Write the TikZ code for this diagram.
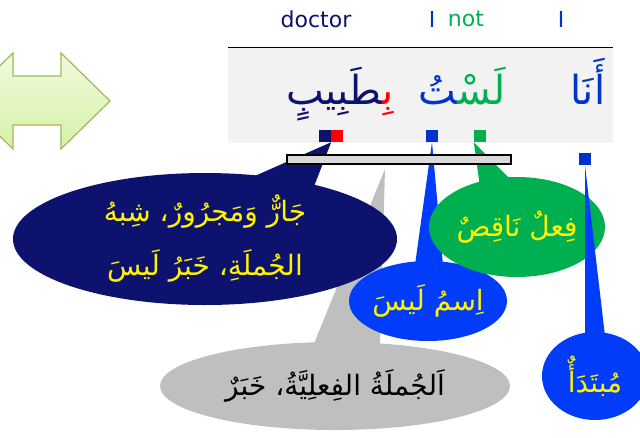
\documentclass[tikz,border=0pt]{standalone}
\usepackage{fontspec}
\setmainfont{DejaVu Sans}
\newfontfamily\arabicfont[Script=Arabic]{DejaVu Sans}
\TeXXeTstate=1
\usetikzlibrary{calc,shapes.geometric}
\definecolor{navy}{RGB}{12,18,110}
\definecolor{arblue}{RGB}{0,51,204}
\definecolor{boxblue}{RGB}{0,60,250}
\definecolor{argreen}{RGB}{0,176,80}
\definecolor{callgray}{RGB}{191,191,191}
\definecolor{bandgray}{RGB}{242,242,242}
\definecolor{bargray}{RGB}{217,217,217}
\definecolor{arrowedge}{RGB}{155,187,89}
\definecolor{arrowtop}{RGB}{240,251,222}
\definecolor{arrowbot}{RGB}{214,241,166}
\newcommand{\ar}[1]{{\arabicfont\beginR #1\endR}}
\newcommand{\zwj}{\char"200D}

\begin{document}
\begin{tikzpicture}[x=1pt,y=-1pt,
  sqmark/.style={minimum size=12pt,inner sep=0pt},
  callout/.style={ellipse,inner sep=0pt,text=yellow,align=center,
    font=\fontsize{28}{54}\selectfont},
  word/.style={anchor=base,font=\arabicfont\fontsize{40}{46}\selectfont},
  gloss/.style={font=\fontsize{22}{26}\selectfont}]
\useasboundingbox (0,0) rectangle (640,437);

\shade[top color=arrowtop,bottom color=arrowbot,draw=arrowedge,line width=1.2pt]
  (-36,101) -- (13,53) -- (13,76) -- (61,76) -- (61,53) -- (110,101)
  -- (61,149) -- (61,125) -- (13,125) -- (13,149) -- cycle;

\node[gloss,text=navy] (doctor) at (316,19) {doctor};
\node[gloss,text=arblue] (iA) at (432,19) {I};
\node[gloss,text=argreen] (notW) at (466,19) {not};
\node[gloss,text=arblue] (iB) at (561,19) {I};

\fill[bandgray] (228,47) rectangle (613,143);
\draw[line width=1pt] (228,47) -- (613,47);

\node[word,text=arblue] (ana) at (588,104) {أَنَا};
\node[word] (lastu) at (462,104)
  {{\color{arblue}\zwj تُ}{\color{argreen}لَسْ\zwj}};
\node[word] (tabib) at (340,104)
  {{\color{navy}\zwj طَبِيبٍ}{\color{red}بِ\zwj}};

\node[sqmark,fill=navy] (sqJar) at (325,136) {};
\node[sqmark,fill=red] (sqBi) at (337,136) {};
\node[sqmark,fill=arblue] (sqIsm) at (432,136) {};
\node[sqmark,fill=argreen] (sqFil) at (480,136) {};
\node[sqmark,fill=arblue] (sqMub) at (585,159) {};
\coordinate (kTip) at (385,169);

\node[callout,fill=callgray,text=black,minimum width=350pt,minimum height=88pt]
  (khabar) at (335,386) {\ar{اَلجُملَةُ الفِعلِيَّةُ، خَبَرٌ}};
\fill[callgray] (kTip) -- ($(khabar.center)+(-22,-40)$)
  -- ($(khabar.center)+(45,-40)$) -- cycle;

\node[callout,fill=navy,minimum width=384pt,minimum height=132pt]
  (jar) at (205,239) {\ar{جَارٌّ وَمَجرُورٌ، شِبهُ}\\\ar{الجُملَةِ، خَبَرُ لَيسَ}};
\fill[navy] (sqJar.south east) -- ($(jar.center)+(43,-60)$)
  -- ($(jar.center)+(108,-50)$) -- cycle;

\node[callout,fill=boxblue,minimum width=158pt,minimum height=80pt]
  (ism) at (428,301) {\ar{اِسمُ لَيسَ}};
\fill[boxblue] (sqIsm.south) -- ($(ism.center)+(-13,-36)$)
  -- ($(ism.center)+(15,-36)$) -- cycle;

\node[callout,fill=argreen,minimum width=176pt,minimum height=100pt]
  (fil) at (517,227) {\ar{فِعلٌ نَاقِصٌ}};
\fill[argreen] (sqFil.south west) -- ($(fil.center)+(-37,-40)$)
  -- ($(fil.center)+(-5,-46)$) -- cycle;

\node[callout,fill=boxblue,minimum width=106pt,minimum height=88pt]
  (mub) at (595,376) {\ar{مُبتَدَأٌ}};
\fill[boxblue] (sqMub.south) -- ($(mub.center)+(-10,-40)$)
  -- ($(mub.center)+(10,-40)$) -- cycle;

\node[draw=black,line width=1.5pt,fill=bargray,minimum width=224pt,
  minimum height=9pt,inner sep=0pt] (bar) at (399,159.5) {};
\end{tikzpicture}
\end{document}
